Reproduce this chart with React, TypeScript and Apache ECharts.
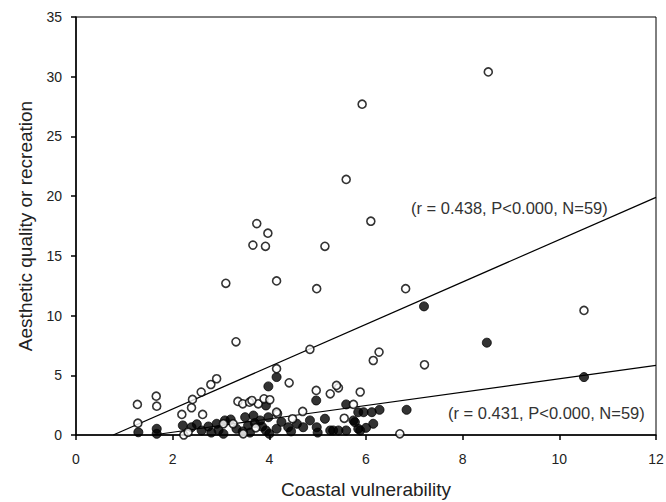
import React, { useEffect, useRef } from "react";
import * as echarts from "echarts";

const xTicks = [0, 2, 4, 6, 8, 10, 12];
const yTicks = [0, 5, 10, 15, 20, 25, 30, 35];

const openPoints: [number, number][] = [
  [8.53, 30.4], [5.92, 27.7], [5.59, 21.4], [6.10, 17.9], [3.74, 17.7],
  [3.97, 16.9], [3.66, 15.9], [3.92, 15.8], [5.15, 15.8], [3.10, 12.7],
  [4.15, 12.9], [4.98, 12.25], [6.82, 12.25], [10.51, 10.43], [7.21, 5.88],
  [6.15, 6.24], [6.27, 6.94], [6.70, 0.1], [5.88, 3.6], [3.31, 7.8],
  [4.84, 7.17], [1.27, 2.56], [1.66, 3.25], [1.67, 2.41], [1.28, 0.99],
  [2.19, 1.72], [2.39, 2.28], [2.41, 2.98], [2.59, 3.59], [2.62, 1.72],
  [2.79, 4.23], [2.91, 4.71], [2.23, 0.0], [4.15, 5.55], [4.41, 4.37],
  [3.35, 2.81], [3.45, 2.61], [3.59, 2.75], [3.77, 2.61], [3.89, 3.03],
  [4.01, 2.95], [4.17, 1.78], [4.69, 1.97], [4.97, 3.73], [5.26, 3.45],
  [5.43, 3.95], [5.74, 2.56], [5.55, 1.4], [4.48, 1.36], [3.46, 0.1],
  [3.25, 0.94], [3.05, 0.94], [3.72, 0.6], [2.32, 0.23], [3.64, 2.89],
  [4.15, 1.91], [5.39, 4.15],
];

const filledPoints: [number, number][] = [
  [1.29, 0.23], [1.67, 0.52], [1.67, 0.1], [2.21, 0.8], [2.39, 0.65],
  [2.60, 0.38], [2.74, 0.71], [2.91, 0.94], [3.08, 1.22], [3.05, 0.1],
  [3.32, 0.52], [3.50, 1.49], [3.67, 1.63], [3.56, 0.8], [3.81, 1.22],
  [3.93, 2.47], [3.98, 4.07], [4.15, 4.85], [3.98, 1.49], [3.93, 0.38],
  [4.15, 0.52], [4.39, 0.65], [4.57, 0.94], [4.70, 0.65], [4.98, 0.65],
  [4.97, 2.89], [5.15, 1.36], [4.84, 1.22], [5.26, 0.38], [5.43, 0.38],
  [5.59, 0.38], [5.59, 2.56], [5.77, 1.07], [5.84, 1.91], [5.95, 1.91],
  [6.12, 1.91], [6.28, 2.11], [6.15, 0.94], [5.88, 0.38], [6.84, 2.11],
  [7.20, 10.77], [8.50, 7.73], [10.51, 4.85], [5.74, 1.22], [5.84, 0.52],
  [5.32, 0.38], [3.45, 0.3], [2.95, 0.4], [3.70, 1.0], [4.25, 1.1],
  [4.45, 0.3], [3.20, 1.3], [2.50, 0.9], [3.85, 0.7], [4.0, 0.1],
  [3.60, 0.2], [2.80, 0.2], [5.0, 0.2], [6.0, 0.6],
];

const openFit: [number, number][] = [[0.77, 0], [12, 19.9]];
const filledFit: [number, number][] = [[1.59, 0], [12, 5.83]];

const openLabel = "(r = 0.438, P<0.000, N=59)";
const filledLabel = "(r = 0.431, P<0.000, N=59)";

export default function App() {
  const ref = useRef<HTMLDivElement>(null);
  useEffect(() => {
    document.body.style.margin = "0";
    if (!ref.current) return;
    const chart = echarts.init(ref.current, undefined, { renderer: "svg" });
    const font = "Liberation Sans, Arial, sans-serif";
    chart.setOption({
      animation: false,
      backgroundColor: "#ffffff",
      grid: {
        left: 76,
        top: 17,
        right: 10,
        bottom: 67,
        show: true,
        borderColor: "#000",
        borderWidth: 1,
        containLabel: false,
        outerBoundsMode: "none",
      },
      xAxis: {
        type: "value",
        min: 0,
        max: 12,
        interval: 2,
        name: "Coastal vulnerability",
        nameLocation: "middle",
        nameGap: 45,
        nameTextStyle: { color: "#222", fontSize: 19, fontFamily: font },
        axisLine: { lineStyle: { color: "#000", width: 1.5 } },
        axisTick: { show: true, length: 5, inside: false, lineStyle: { color: "#000", width: 1.5 } },
        axisLabel: {
          color: "#222",
          fontSize: 14,
          fontFamily: font,
          margin: 17,
          formatter: (v: number) => (xTicks.includes(v) ? String(v) : ""),
        },
        splitLine: { show: false },
      },
      yAxis: {
        type: "value",
        min: 0,
        max: 35,
        interval: 5,
        name: "Aesthetic quality or recreation",
        nameLocation: "middle",
        nameGap: 41,
        nameRotate: 90,
        nameTextStyle: { color: "#222", fontSize: 19, fontFamily: font },
        axisLine: { lineStyle: { color: "#000", width: 1.5 } },
        axisTick: { show: true, length: 5, inside: false, lineStyle: { color: "#000", width: 1.5 } },
        axisLabel: {
          color: "#222",
          fontSize: 14,
          fontFamily: font,
          margin: 14,
          formatter: (v: number) => (yTicks.includes(v) ? String(v) : ""),
        },
        splitLine: { show: false },
      },
      series: [
        {
          type: "line",
          data: openFit,
          symbol: "none",
          lineStyle: { color: "#000", width: 1.2 },
          silent: true,
          z: 1,
        },
        {
          type: "line",
          data: filledFit,
          symbol: "none",
          lineStyle: { color: "#000", width: 1.2 },
          silent: true,
          z: 1,
        },
        {
          type: "scatter",
          data: filledPoints,
          symbol: "circle",
          symbolSize: 9,
          itemStyle: { color: "#000", borderColor: "#000", borderWidth: 1 },
          z: 2,
        },
        {
          type: "scatter",
          data: openPoints,
          symbol: "circle",
          symbolSize: 8,
          itemStyle: { color: "#fff", borderColor: "#000", borderWidth: 1.6 },
          z: 3,
        },
      ],
      graphic: [
        {
          type: "text",
          left: 411,
          top: 199,
          style: { text: openLabel, fontSize: 16.5, fontFamily: font, fill: "#333" },
        },
        {
          type: "text",
          left: 448,
          top: 404,
          style: { text: filledLabel, fontSize: 16.5, fontFamily: font, fill: "#333" },
        },
      ],
    });
    return () => chart.dispose();
  }, []);
  return <div ref={ref} style={{ width: 666, height: 502 }} />;
}
